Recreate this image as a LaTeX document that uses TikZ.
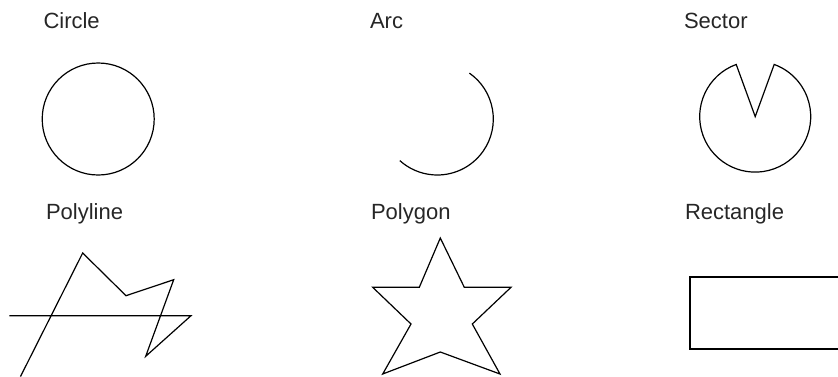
\documentclass[tikz,border=0pt]{standalone}
\usepackage{fontspec}
\setmainfont{Liberation Sans}
\begin{document}
\begin{tikzpicture}[x=1pt,y=-1pt,
  lbl/.style={anchor=base west,inner sep=0pt,outer sep=0pt,font=\fontsize{22}{26}\selectfont,text=black!85},
  shp/.style={draw=black,line width=1.2pt,line join=miter}]
\useasboundingbox (0,0) rectangle (838,376);
\clip (0,0) rectangle (838,376);
% labels
\node[lbl] (lcircle) at (43.5,28.5) {Circle};
\node[lbl] (larc) at (370,28.5) {Arc};
\node[lbl] (lsector) at (684,28.5) {Sector};
\node[lbl] (lpolyline) at (46,219.5) {Polyline};
\node[lbl] (lpolygon) at (371,219.5) {Polygon};
\node[lbl] (lrect) at (685,219.5) {Rectangle};
% circle
\coordinate (cc) at (98.2,119);
\draw[shp] (cc) circle[radius=56];
% arc
\coordinate (ac) at (437.3,119);
\draw[shp] (ac) ++(-55:56) arc[start angle=-55,end angle=132,radius=56];
% sector
\coordinate (sc) at (755.2,116.6);
\draw[shp] (sc) -- ++(-110:55.5) arc[start angle=-110,end angle=-430,radius=55.5] -- cycle;
% polyline
\draw[shp] (20.5,376.5) -- (82.7,253) -- (126,295.7) -- (173.7,279.7) -- (145.7,356.3) -- (191,315.7) -- (9.3,315.7);
% polygon (star)
\draw[shp] (440.3,238) -- (464.3,287.3) -- (511,287.3) -- (472.3,324) -- (500,374) -- (440.3,352) -- (382.7,374) -- (411,324) -- (372.7,287.3) -- (419.3,287.3) -- cycle;
% rectangle
\draw[shp] (690,277) rectangle (850,349);
\end{tikzpicture}
\end{document}
